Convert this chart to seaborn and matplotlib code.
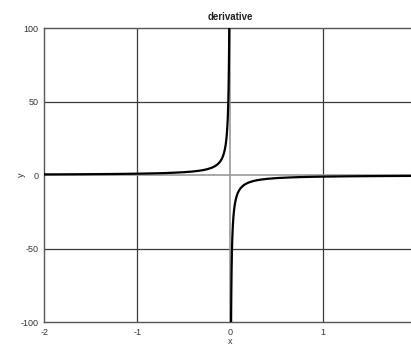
import matplotlib
matplotlib.use("Agg")
import matplotlib.pyplot as plt
import seaborn as sns
import pandas as pd

# Values (left and right branches)
x_left = [-2.0, -1.75, -1.5, -1.25, -1.0, -0.85, -0.75, -0.65, -0.5, -0.4, -0.33, -0.28, -0.25,
          -0.2, -0.17, -0.15, -0.13, -0.11, -0.1, -0.09, -0.08, -0.07, -0.06, -0.05,
          -0.045, -0.04, -0.035, -0.03, -0.027, -0.024, -0.021, -0.019, -0.017, -0.015,
          -0.013, -0.012, -0.011, -0.010, -0.009, -0.008]
y_left = [0.5, 0.57, 0.67, 0.8, 1.0, 1.18, 1.33, 1.54, 2.0, 2.5, 3.03, 3.57, 4.0,
          5.0, 5.88, 6.67, 7.69, 9.09, 10.0, 11.1, 12.5, 14.3, 16.7, 20.0,
          22.2, 25.0, 28.6, 33.3, 37.0, 41.7, 47.6, 52.6, 58.8, 66.7,
          76.9, 83.3, 90.9, 100.0, 111.1, 125.0]
x_right = [0.008, 0.009, 0.010, 0.011, 0.012, 0.013, 0.015, 0.017, 0.019, 0.021, 0.024,
           0.027, 0.03, 0.035, 0.04, 0.045, 0.05, 0.06, 0.07, 0.08, 0.09, 0.1, 0.11,
           0.13, 0.15, 0.17, 0.2, 0.25, 0.28, 0.33, 0.4, 0.5, 0.65, 0.75, 0.85, 1.0,
           1.25, 1.5, 1.75, 2.0]
y_right = [-125.0, -111.1, -100.0, -90.9, -83.3, -76.9, -66.7, -58.8, -52.6, -47.6, -41.7,
           -37.0, -33.3, -28.6, -25.0, -22.2, -20.0, -16.7, -14.3, -12.5, -11.1, -10.0, -9.09,
           -7.69, -6.67, -5.88, -5.0, -4.0, -3.57, -3.03, -2.5, -2.0, -1.54, -1.33, -1.18, -1.0,
           -0.8, -0.67, -0.57, -0.5]

x_ticks = [-2, -1, 0, 1]
y_ticks = [-100, -50, 0, 50, 100]

left_df = pd.DataFrame({"x": x_left, "y": y_left})
right_df = pd.DataFrame({"x": x_right, "y": y_right})

sns.set_style("white")
plt.rcParams["font.family"] = ["Liberation Sans", "DejaVu Sans"]

fig = plt.figure(figsize=(4.11, 3.45), dpi=100)
ax = fig.add_axes([44.3 / 411, 23 / 345, (416 - 44.3) / 411, (322 - 28.3) / 345])

ax.set_xlim(-2, 2)
ax.set_ylim(-100, 100)

# grid lines
for xv in [-1, 1]:
    ax.axvline(xv, color="#3a3a3a", lw=0.9, zorder=1)
for yv in [-50, 50]:
    ax.axhline(yv, color="#3a3a3a", lw=0.9, zorder=1)
ax.axvline(0, color="#9a9a9a", lw=1.2, zorder=1)
ax.axhline(0, color="#9a9a9a", lw=1.2, zorder=1)

sns.lineplot(data=left_df, x="x", y="y", ax=ax, color="black", lw=1.6,
             sort=False, estimator=None, zorder=3)
sns.lineplot(data=right_df, x="x", y="y", ax=ax, color="black", lw=1.6,
             sort=False, estimator=None, zorder=3)

ax.set_xticks(x_ticks)
ax.set_xticklabels([str(t) for t in x_ticks])
ax.set_yticks(y_ticks)
ax.set_yticklabels([str(t) for t in y_ticks])
ax.tick_params(axis="both", length=0, labelsize=6.5, colors="#333333", pad=4)

for s in ax.spines.values():
    s.set_color("#555555")
    s.set_linewidth(1.0)

ax.set_xlabel("x", fontsize=6.5, color="#333333")
ax.set_ylabel("y", fontsize=6.5, color="#333333")
ax.xaxis.set_label_coords((230.5 - 44.3) / 371.7, (322 - 336.5) / 293.7)
ax.yaxis.set_label_coords((26 - 44.3) / 371.7, 0.5)
ax.set_title("derivative", fontsize=7, fontweight="bold", color="#222222", pad=6)

fig.savefig("out.png", dpi=100)
